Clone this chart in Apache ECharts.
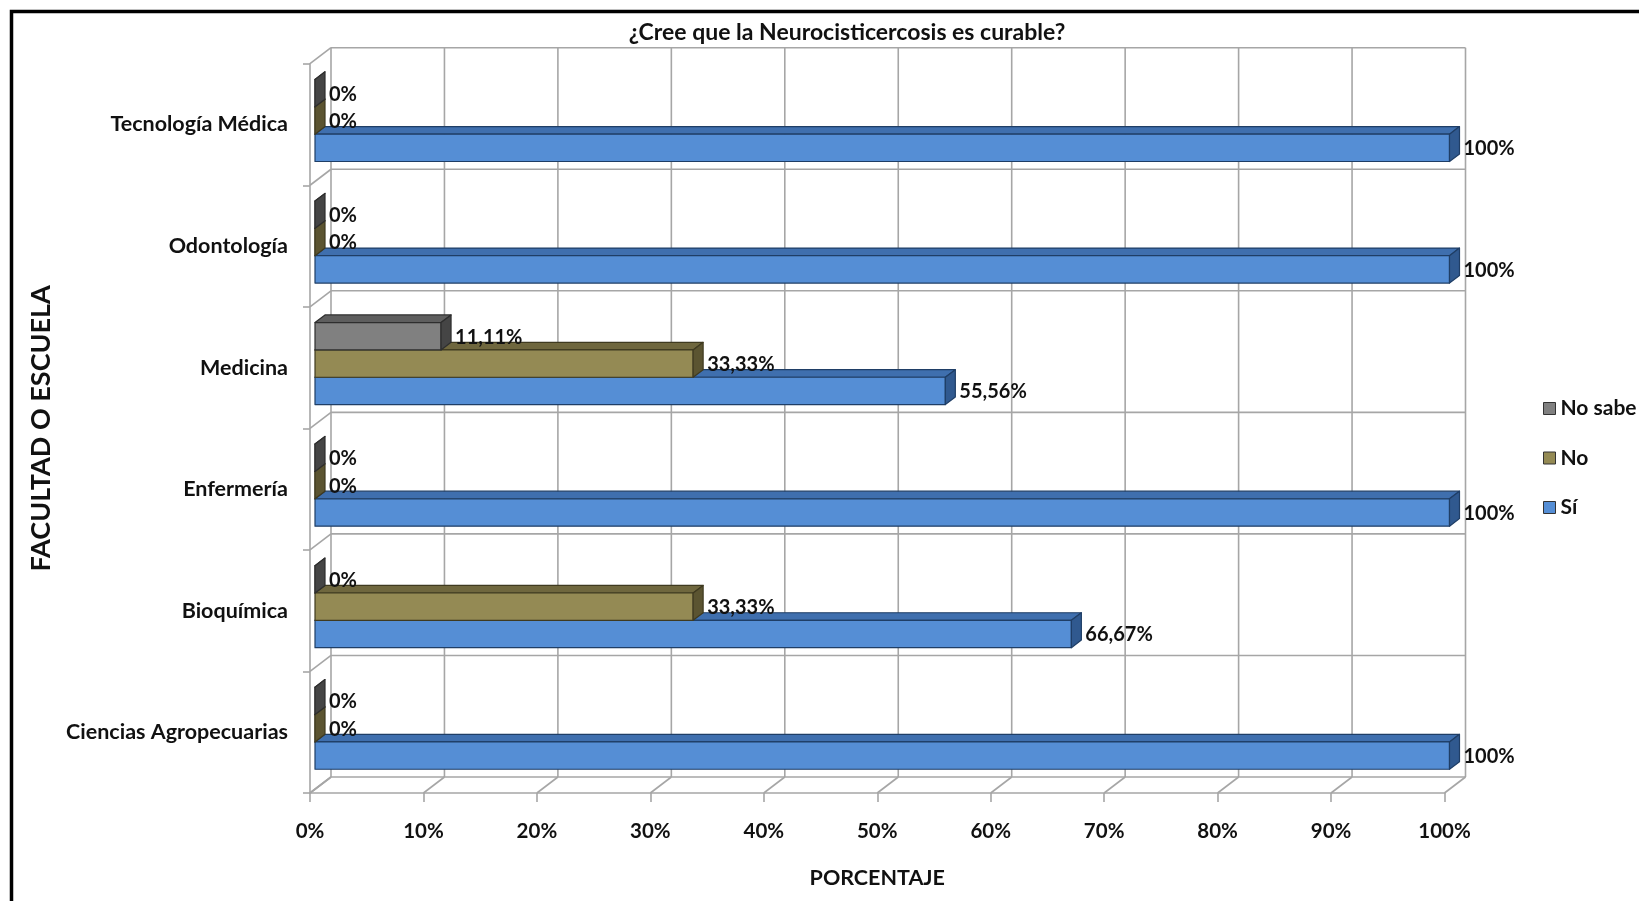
<!DOCTYPE html>
<html>
<head>
<meta charset="utf-8">
<title>¿Cree que la Neurocisticercosis es curable?</title>
<script src="https://cdn.jsdelivr.net/npm/echarts@6/dist/echarts.min.js"></script>
<style>
  html, body { margin: 0; padding: 0; background: #fff; }
  #chart { width: 1639px; height: 901px; }
</style>
</head>
<body>
<div id="chart"></div>
<script>
// Faculties, listed bottom to top
const categories = ['Ciencias Agropecuarias', 'Bioquímica', 'Enfermería', 'Medicina', 'Odontología', 'Tecnología Médica'];
// Percentages per answer
const siValues     = [100, 66.67, 100, 55.56, 100, 100];
const noValues     = [0, 33.33, 0, 33.33, 0, 0];
const noSabeValues = [0, 0, 0, 11.11, 0, 0];
const percentTicks = [0, 10, 20, 30, 40, 50, 60, 70, 80, 90, 100];

const FONT = 'Lato, "Noto Sans", sans-serif';
const GRID_COLOR = '#a6a6a6';
// depth of the box walls
const WALL_DX = 21, WALL_DY = 16;
// bars sit a little behind the front plane and have their own depth
const BAR_OFF_X = 5, BAR_OFF_Y = 4;
const BAR_DX = 10, BAR_DY = 7.6;
const BAR_FRACTION = 0.225;

function fmtPct(v) {
  return (Math.round(v) === v ? String(v) : v.toFixed(2).replace('.', ',')) + '%';
}

function toData(values) {
  return values.map((v, i) => [v, i]);
}

// Back wall verticals and floor diagonals for each percent tick
function renderXGrid(params, api) {
  const cs = params.coordSys;
  const p = api.coord([api.value(0), 0]);
  const x = p[0];
  const top = cs.y, bottom = cs.y + cs.height;
  const style = { stroke: GRID_COLOR, lineWidth: 1.6 };
  return {
    type: 'group',
    children: [
      { type: 'line', shape: { x1: x + WALL_DX, y1: top - WALL_DY, x2: x + WALL_DX, y2: bottom - WALL_DY }, style },
      { type: 'line', shape: { x1: x, y1: bottom, x2: x + WALL_DX, y2: bottom - WALL_DY }, style }
    ]
  };
}

// Back wall horizontals and side wall diagonals at category boundaries
function renderYGrid(params, api) {
  const cs = params.coordSys;
  const c = api.value(0);
  const band = api.size([0, 1])[1];
  const center = api.coord([0, c]);
  const left = cs.x, right = cs.x + cs.width;
  const style = { stroke: GRID_COLOR, lineWidth: 1.6 };
  const children = [];
  const edges = [center[1] - band / 2];
  if (c === 0) edges.push(center[1] + band / 2);
  edges.forEach(y => {
    children.push({ type: 'line', shape: { x1: left + WALL_DX, y1: y - WALL_DY, x2: right + WALL_DX, y2: y - WALL_DY }, style });
    children.push({ type: 'line', shape: { x1: left, y1: y, x2: left + WALL_DX, y2: y - WALL_DY }, style });
  });
  return { type: 'group', children };
}

// Prism-shaped bar: front face, top face, right side face and a value label
function barRenderer(slot, colors) {
  return function (params, api) {
    const v = api.value(0), c = api.value(1);
    const band = api.size([0, 1])[1];
    const base = api.coord([0, c]);
    const end = api.coord([v, c]);
    const bw = band * BAR_FRACTION;
    const cy = base[1] - BAR_OFF_Y;
    const top = cy - 1.5 * bw + slot * bw;
    const x0 = base[0] + BAR_OFF_X;
    const x1 = end[0] + BAR_OFF_X;
    const stroke = { stroke: colors.border, lineWidth: 1.2, lineJoin: 'round' };
    return {
      type: 'group',
      children: [
        { type: 'polygon', shape: { points: [[x0, top], [x0 + BAR_DX, top - BAR_DY], [x1 + BAR_DX, top - BAR_DY], [x1, top]] },
          style: Object.assign({ fill: colors.top }, stroke) },
        { type: 'rect', shape: { x: x0, y: top, width: x1 - x0, height: bw },
          style: Object.assign({ fill: colors.front }, stroke) },
        { type: 'polygon', shape: { points: [[x1, top], [x1 + BAR_DX, top - BAR_DY], [x1 + BAR_DX, top - BAR_DY + bw], [x1, top + bw]] },
          style: Object.assign({ fill: colors.side }, stroke) },
        { type: 'text', z2: 10,
          style: { x: x1 + BAR_DX + 4, y: top + bw / 2 + 1, text: fmtPct(v), fill: '#111',
                   font: 'bold 20px ' + FONT, verticalAlign: 'middle', align: 'left' } }
      ]
    };
  };
}

const siColors     = { front: '#558ed5', top: '#3f6fae', side: '#30598f', border: '#1f3e66' };
const noColors     = { front: '#948a54', top: '#6f673e', side: '#5b5431', border: '#3f3a20' };
const noSabeColors = { front: '#808080', top: '#5e5e5e', side: '#454545', border: '#2e2e2e' };

const chart = echarts.init(document.getElementById('chart'), null, { renderer: 'canvas' });

chart.setOption({
  backgroundColor: '#fff',
  animation: false,
  textStyle: { fontFamily: FONT },
  title: {
    text: '¿Cree que la Neurocisticercosis es curable?',
    left: 842, top: 16, textAlign: 'center',
    textStyle: { fontFamily: FONT, fontSize: 23, fontWeight: 'bold', color: '#111' }
  },
  legend: {
    orient: 'vertical',
    left: 1543, top: 398, padding: 0,
    data: ['No sabe', 'No', 'Sí'],
    icon: 'rect', itemWidth: 12, itemHeight: 12, itemGap: 28.5,
    itemStyle: { borderColor: '#333', borderWidth: 1 },
    textStyle: { fontFamily: FONT, fontSize: 21, fontWeight: 'bold', color: '#111' }
  },
  grid: { left: 310, right: 194.5, top: 63.7, bottom: 108 },
  xAxis: {
    type: 'value', min: 0, max: 100, interval: 10,
    axisLine: { show: true, lineStyle: { color: GRID_COLOR, width: 1.6 } },
    axisTick: { show: true, length: 9, lineStyle: { color: GRID_COLOR, width: 1.6 } },
    splitLine: { show: false },
    axisLabel: { formatter: '{value}%', margin: 28, fontFamily: FONT, fontSize: 20.5, fontWeight: 'bold', color: '#111' },
    name: 'PORCENTAJE', nameLocation: 'middle', nameGap: 74,
    nameTextStyle: { fontFamily: FONT, fontSize: 21.5, fontWeight: 'bold', color: '#111' }
  },
  yAxis: {
    type: 'category', data: categories,
    axisLine: { show: true, lineStyle: { color: GRID_COLOR, width: 1.6 } },
    axisTick: { show: true, length: 7, lineStyle: { color: GRID_COLOR, width: 1.6 } },
    splitLine: { show: false },
    axisLabel: { margin: 22, fontFamily: FONT, fontSize: 21.5, fontWeight: 'bold', color: '#111' },
    name: 'FACULTAD O ESCUELA', nameLocation: 'middle', nameRotate: 90, nameGap: 251,
    nameTextStyle: { fontFamily: FONT, fontSize: 27, fontWeight: 'bold', color: '#111' }
  },
  graphic: [{
    type: 'rect', silent: true, z: 100,
    shape: { x: 11.5, y: 11.5, width: 2000, height: 2000 },
    style: { fill: 'none', stroke: '#000', lineWidth: 3.5 }
  }],
  series: [
    { type: 'custom', name: 'gridX', silent: true, z: 1, data: percentTicks.map(t => [t]), renderItem: renderXGrid,
      encode: { x: 0 } },
    { type: 'custom', name: 'gridY', silent: true, z: 1, data: categories.map((_, i) => [i]), renderItem: renderYGrid,
      encode: { y: 0 } },
    { type: 'custom', name: 'Sí', z: 2, data: toData(siValues), renderItem: barRenderer(2, siColors),
      encode: { x: 0, y: 1 }, itemStyle: { color: siColors.front } },
    { type: 'custom', name: 'No', z: 2, data: toData(noValues), renderItem: barRenderer(1, noColors),
      encode: { x: 0, y: 1 }, itemStyle: { color: noColors.front } },
    { type: 'custom', name: 'No sabe', z: 2, data: toData(noSabeValues), renderItem: barRenderer(0, noSabeColors),
      encode: { x: 0, y: 1 }, itemStyle: { color: noSabeColors.front } }
  ]
});
</script>
</body>
</html>
